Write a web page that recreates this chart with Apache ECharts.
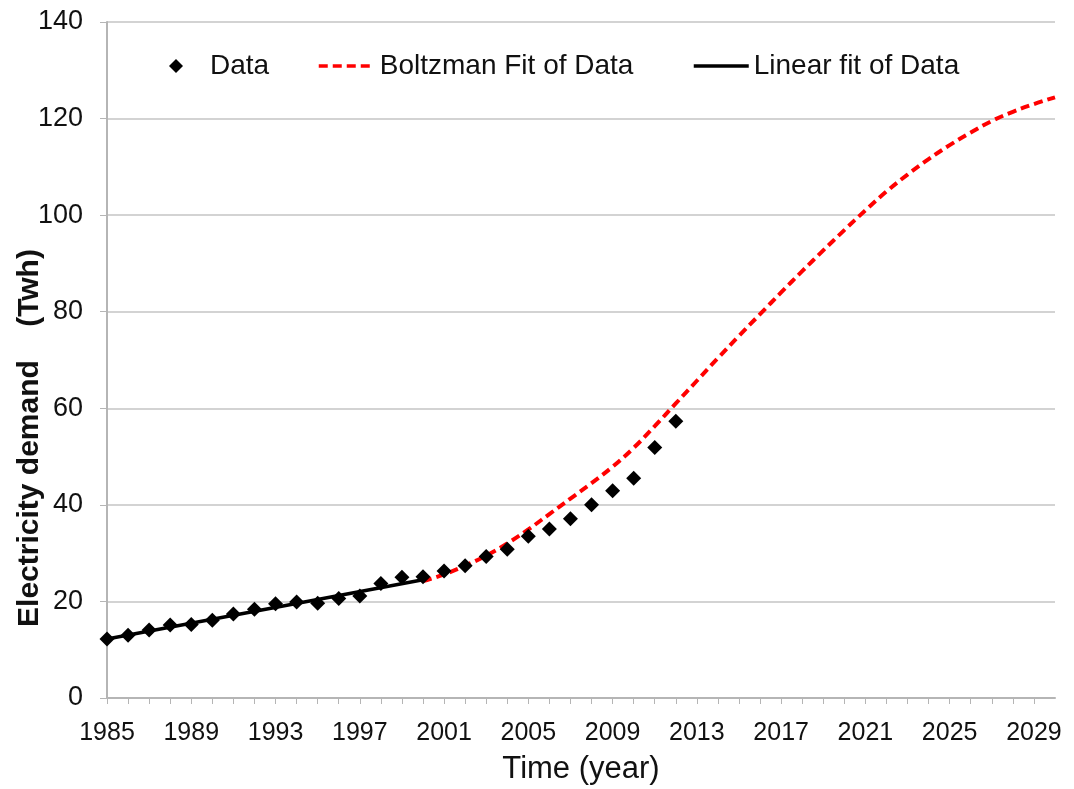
<!DOCTYPE html>
<html>
<head>
<meta charset="utf-8">
<script src="https://cdn.jsdelivr.net/npm/echarts@6/dist/echarts.min.js"></script>
<style>
html,body{margin:0;padding:0;background:#fff;}
#chart{width:1074px;height:789px;}
</style>
</head>
<body>
<div id="chart"></div>
<script>
// Observed data
const years = [1985,1986,1987,1988,1989,1990,1991,1992,1993,1994,1995,1996,1997,1998,1999,2000,2001,2002,2003,2004,2005,2006,2007,2008,2009,2010,2011,2012];
const demand = [12.2,13.0,14.1,15.1,15.2,16.1,17.4,18.4,19.5,19.9,19.6,20.6,21.1,23.7,25.0,25.1,26.3,27.4,29.3,30.8,33.5,35.0,37.1,40.0,42.9,45.5,51.9,57.3];

// Linear fit (end points)
const linearYears = [1985, 2000];
const linearValues = [12.2, 24.5];

// Boltzmann fit
const boltzYears = [2000,2001,2002,2003,2004,2005,2006,2007,2008,2009,2010,2011,2012,2013,2014,2015,2016,2017,2018,2019,2020,2021,2022,2023,2024,2025,2026,2027,2028,2029,2030];
const boltzValues = [24.2,25.6,27.4,29.5,32.0,34.9,38.1,41.3,44.5,47.9,51.8,56.3,61.0,65.7,70.4,75.0,79.5,84.0,88.4,92.7,96.9,101.0,104.9,108.4,111.6,114.5,117.1,119.5,121.4,123.0,124.4];

const xMin = 1985, xMax = 2030, xLabelStep = 4;
const yMin = 0, yMax = 140, yStep = 20;

const zip = (a, b) => a.map((v, i) => [v, b[i]]);

const FONT = '"Liberation Sans", Arial, sans-serif';
const chart = echarts.init(document.getElementById('chart'), null, {renderer: 'canvas'});

const legendText = {fontFamily: FONT, fontSize: 28, color: '#111'};

chart.setOption({
  animation: false,
  backgroundColor: '#fff',
  grid: {left: 107, right: 19, top: 22, bottom: 91, containLabel: false, outerBoundsMode: 'none'},
  legend: [
    {
      data: [{name: 'Data', icon: 'diamond'}],
      left: 169, top: 52, padding: 0,
      itemWidth: 14, itemHeight: 14,
      textStyle: Object.assign({padding: [0, 0, 0, 22]}, legendText),
      itemStyle: {opacity: 1},
      selectedMode: false
    },
    {
      data: ['Boltzman Fit of Data'],
      left: 317, top: 52, padding: 0,
      itemWidth: 56, itemHeight: 14,
      textStyle: legendText,
      itemStyle: {opacity: 0},
      lineStyle: {width: 3.5, color: '#ff0000', type: [9, 5]},
      selectedMode: false
    },
    {
      data: ['Linear fit of Data'],
      left: 692, top: 52, padding: 0,
      itemWidth: 55, itemHeight: 14,
      textStyle: legendText,
      itemStyle: {opacity: 0},
      lineStyle: {width: 3.5, color: '#000'},
      selectedMode: false
    }
  ],
  xAxis: {
    type: 'value',
    min: xMin, max: xMax, interval: 1,
    name: 'Time (year)',
    nameLocation: 'middle',
    nameGap: 56,
    nameMoveOverlap: false,
    nameTextStyle: {fontFamily: FONT, fontSize: 31, color: '#111'},
    axisLine: {show: true, lineStyle: {color: '#b5b5b5', width: 2}},
    axisTick: {show: true, length: 6, lineStyle: {color: '#b5b5b5', width: 1}},
    axisLabel: {
      fontFamily: FONT, fontSize: 25, color: '#111', margin: 23,
      showMaxLabel: false,
      formatter: v => ((v - xMin) % xLabelStep === 0 ? String(v) : '')
    },
    splitLine: {show: false}
  },
  yAxis: {
    type: 'value',
    min: yMin, max: yMax, interval: yStep,
    name: 'Electricity demand    (Twh)',
    nameLocation: 'middle',
    nameGap: 62,
    nameMoveOverlap: false,
    nameTextStyle: {fontFamily: FONT, fontSize: 30, fontWeight: 'bold', color: '#111', padding: [0, 156, 0, 0]},
    axisLine: {show: true, lineStyle: {color: '#b5b5b5', width: 2}},
    axisTick: {show: true, length: 7, lineStyle: {color: '#b5b5b5', width: 1}},
    axisLabel: {fontFamily: FONT, fontSize: 27, color: '#111', margin: 24},
    splitLine: {show: true, lineStyle: {color: '#d3d3d3', width: 2}}
  },
  series: [
    {
      name: 'Linear fit of Data',
      type: 'line',
      data: zip(linearYears, linearValues),
      symbol: 'none',
      lineStyle: {color: '#000', width: 3.5},
      itemStyle: {color: '#000'},
      z: 2
    },
    {
      name: 'Boltzman Fit of Data',
      type: 'line',
      data: zip(boltzYears, boltzValues),
      symbol: 'none',
      smooth: 0.4,
      lineStyle: {color: '#ff0000', width: 4, type: [9, 5]},
      itemStyle: {color: '#ff0000'},
      z: 3
    },
    {
      name: 'Data',
      type: 'scatter',
      data: zip(years, demand),
      symbol: 'diamond',
      symbolSize: 15,
      itemStyle: {color: '#000', opacity: 1},
      z: 4
    }
  ]
});
</script>
</body>
</html>
